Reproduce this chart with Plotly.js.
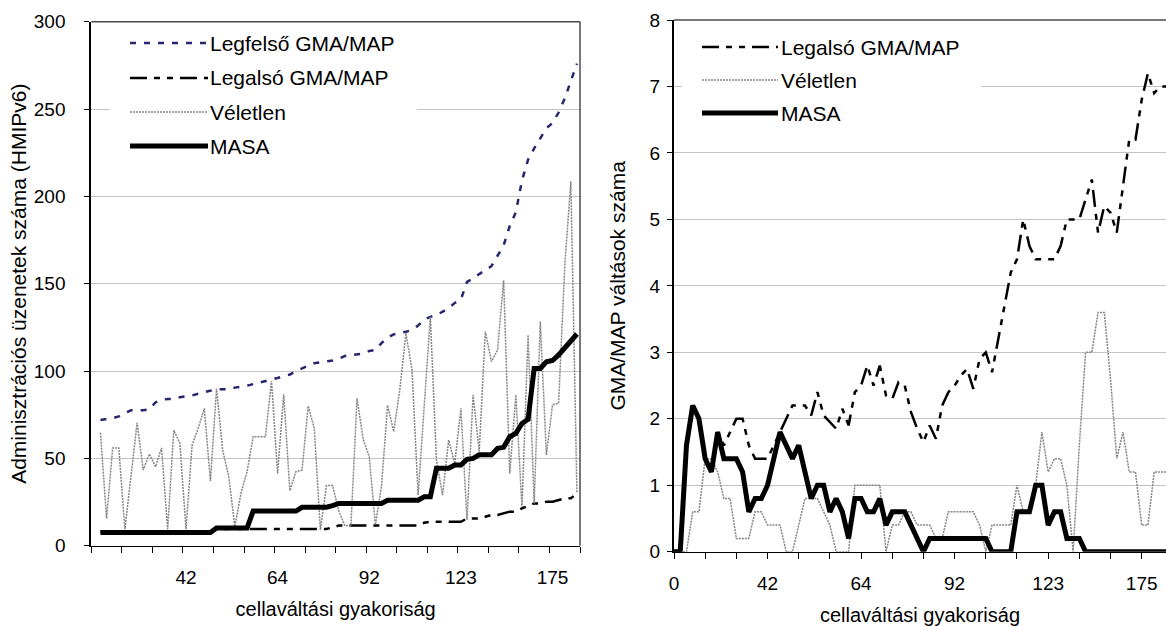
<!DOCTYPE html>
<html><head><meta charset="utf-8">
<script src="https://cdn.plot.ly/plotly-3.0.1.min.js"></script>
<style>html,body{margin:0;padding:0;background:#fff}#chart{width:1166px;height:626px}</style>
</head><body><div id="chart"></div>
<script>
// ---------- data (left chart: categories 2..80, right chart: categories 1..80) ----------
const legfelsoL = [72, 72.5, 73, 74, 76, 77.5, 77.5, 77.5, 78, 82,
  83.5, 84, 84, 85, 85.5, 86, 87, 88, 89, 89.6,
  89.6, 89.6, 90.5, 91, 91.6, 92.5, 93.3, 94.5, 95, 96,
  97, 98, 100, 101.4, 103, 104.5, 105, 105.5, 106, 107,
  108.6, 109, 109.5, 110, 111.5, 112, 116, 119, 121, 121.6,
  122.5, 123.5, 126, 129.5, 131, 132, 134, 136, 139, 141,
  151, 153, 155.5, 158, 160, 166, 172, 183, 191, 209,
  221, 227.5, 233, 239, 242, 248, 256, 265.5, 276];
const legalsoL = [8, 8, 8, 8, 8, 8, 8, 8, 8, 8,
  8, 8, 8, 8, 8, 8, 8, 8, 8, 9.6,
  9.6, 9.6, 9.6, 9.6, 9.6, 9.6, 9.6, 9.6, 9.6, 9.6,
  9.6, 9.6, 9.6, 9.6, 9.6, 9.6, 9.6, 9.6, 10.5, 11.5,
  11.5, 11.5, 11.5, 11.5, 11.5, 11.5, 11.5, 11.5, 11.5, 11.5,
  11.5, 11.5, 11.5, 13.2, 13.7, 13.7, 13.7, 13.7, 13.7, 13.7,
  15.6, 15.6, 15.6, 16.6, 17.6, 17.6, 18.5, 19.5, 19.5, 21.4,
  22.8, 24.2, 24.2, 25.2, 25.2, 26, 27.1, 27.1, 30];
const veletlenL = [64.7, 15.6, 56, 56, 9.4, 40, 70.4, 43.3, 52.5, 45.2,
  56, 9.4, 66.2, 58.6, 9.4, 57.6, 67.2, 78.6, 37, 90,
  54.8, 39.5, 10.9, 30, 42.4, 62.4, 62.4, 62.4, 94.3, 41.4,
  86.6, 31.5, 42.4, 43.3, 80, 67.2, 9, 34.4, 34.4, 20,
  11.5, 11.5, 84.4, 61, 51, 12, 33.8, 80.4, 65.3, 89.2,
  121.6, 100.6, 29, 80, 131, 49, 29, 60.5, 47, 78.6,
  14.7, 86.3, 54, 122.6, 105.4, 112, 152, 41.4, 86.3, 22,
  120.7, 24.2, 128.3, 52, 80.6, 81.5, 160, 208.5, 30];
const masaL = [7.6, 7.6, 7.6, 7.6, 7.6, 7.6, 7.6, 7.6, 7.6, 7.6,
  7.6, 7.6, 7.6, 7.6, 7.6, 7.6, 7.6, 7.6, 7.6, 10.2,
  10.2, 10.2, 10.2, 10.2, 10.2, 19.8, 19.8, 19.8, 19.8, 19.8,
  19.8, 19.8, 19.8, 22, 22, 22, 22, 22, 23, 24.2,
  24.2, 24.2, 24.2, 24.2, 24.2, 24.2, 24.2, 26, 26, 26,
  26, 26, 26, 28, 28, 44.3, 44.3, 44.3, 46.2, 46.2,
  49.4, 50, 52, 52, 52, 55.7, 56.3, 62.4, 64.3, 70,
  72.3, 101.5, 101.5, 105.3, 106, 109.2, 113, 116.8, 121.2];

const legalsoR = [0, 0, 1.6, 2.2, 2.0, 1.4, 1.2, 1.8, 1.6, 1.8,
  2.0, 2.0, 1.6, 1.4, 1.4, 1.4, 1.6, 1.8, 2.0, 2.2,
  2.2, 2.2, 2.05, 2.4, 2.05, 1.95, 1.85, 2.15, 1.9, 2.4,
  2.5, 2.8, 2.5, 2.8, 2.35, 2.3, 2.55, 2.5, 2.1, 1.85,
  1.65, 1.9, 1.7, 2.2, 2.4, 2.5, 2.65, 2.75, 2.45, 2.9,
  3.0, 2.7, 3.2, 3.7, 4.2, 4.4, 5.0, 4.6, 4.4, 4.4,
  4.4, 4.4, 4.6, 5.0, 5.0, 5.0, 5.3, 5.6, 4.8, 5.2,
  5.1, 4.8, 5.5, 6.2, 6.2, 6.8, 7.2, 6.9, 7.0, 7.0];
const veletlenR = [0, 0, 0, 0.6, 0.6, 1.4, 1.4, 1.2, 0.8, 0.8,
  0.2, 0.2, 0.2, 0.6, 0.6, 0.4, 0.4, 0.4, 0, 0,
  0.4, 0.8, 0.8, 0.8, 0.6, 0.4, 0, 0, 0, 1.0,
  1.0, 1.0, 1.0, 1.0, 0, 0.4, 0.4, 0.6, 0.6, 0.4,
  0.4, 0.4, 0.2, 0.2, 0.6, 0.6, 0.6, 0.6, 0.6, 0.4,
  0, 0.4, 0.4, 0.4, 0.4, 1.0, 0.6, 0.6, 1.0, 1.8,
  1.2, 1.4, 1.4, 1.0, 0, 1.6, 3.0, 3.0, 3.6, 3.6,
  2.6, 1.4, 1.8, 1.2, 1.2, 0.4, 0.4, 1.2, 1.2, 1.2];
const masaR = [0, 0, 1.6, 2.2, 2.0, 1.4, 1.2, 1.8, 1.4, 1.4,
  1.4, 1.2, 0.6, 0.8, 0.8, 1.0, 1.4, 1.8, 1.6, 1.4,
  1.6, 1.2, 0.8, 1.0, 1.0, 0.6, 0.8, 0.6, 0.2, 0.8,
  0.8, 0.6, 0.6, 0.8, 0.4, 0.6, 0.6, 0.6, 0.4, 0.2,
  0, 0.2, 0.2, 0.2, 0.2, 0.2, 0.2, 0.2, 0.2, 0.2,
  0.2, 0, 0, 0, 0, 0.6, 0.6, 0.6, 1.0, 1.0,
  0.4, 0.6, 0.6, 0.2, 0.2, 0.2, 0, 0, 0, 0,
  0, 0, 0, 0, 0, 0, 0, 0, 0, 0];

const tickLabelsL = ['42', '64', '92', '123', '175'];
const tickLabelsR = ['0', '42', '64', '92', '123', '175'];
const seriesNamesL = ['Legfelső GMA/MAP', 'Legalsó GMA/MAP', 'Véletlen', 'MASA'];
const seriesNamesR = ['Legalsó GMA/MAP', 'Véletlen', 'MASA'];
const yTitleL = 'Adminisztrációs üzenetek száma (HMIPv6)';
const yTitleR = 'GMA/MAP váltások száma';
const xTitle = 'cellaváltási gyakoriság';

// ---------- helpers ----------
const W = 1166, H = 626;
const seq = (start, n) => Array.from({length: n}, (_, i) => start + i);
const xl = seq(2, legfelsoL.length);
const xr = seq(1, masaR.length);
const px = v => v / W;            // pixel -> paper x
const py = v => 1 - v / H;        // pixel -> paper y
const FONT = '"Liberation Sans", Arial, sans-serif';

const ST = {
  top:  {color: '#26266e', width: 2.5, dash: '6px,8px'},
  low:  {color: '#000000', width: 2.5, dash: '17px,7px,6px,7px,6px,7px'},
  rnd:  {color: '#858585', width: 1.5, dash: '2px,1px'},
  masa: {color: '#000000', width: 5}
};

const tr = (x, y, name, st, xa, ya) => ({x, y, name, type: 'scatter', mode: 'lines',
  line: Object.assign({}, st), xaxis: xa, yaxis: ya, hoverinfo: 'skip'});

const data = [
  tr(xl, legfelsoL, seriesNamesL[0], ST.top, 'x', 'y'),
  tr(xl, legalsoL, seriesNamesL[1], ST.low, 'x', 'y'),
  tr(xl, veletlenL, seriesNamesL[2], ST.rnd, 'x', 'y'),
  tr(xl, masaL, seriesNamesL[3], ST.masa, 'x', 'y'),
  tr(xr, legalsoR, seriesNamesR[0], ST.low, 'x2', 'y2'),
  tr(xr, veletlenR, seriesNamesR[1], ST.rnd, 'x2', 'y2'),
  tr(xr, masaR, seriesNamesR[2], ST.masa, 'x2', 'y2')
];

// plot-area geometry (pixels)
const L = {x0: 91.3, x1: 580, y0: 21.7, y1: 545.7};
const R = {x0: 674, x1: W, y0: 20, y1: 551.7};
const catW_R = 6.236;

const boundsL = seq(0, 17).map(k => 0.5 + 5 * k);
const ticksR = seq(0, 16).map(k => 1 + 5 * k);
const ticktextR = ticksR.map((v, i) => (i % 3 === 0 ? tickLabelsR[i / 3] : ''));

const tickFont = {family: FONT, size: 19, color: '#000'};
const xTitleFont = {family: FONT, size: 20, color: '#000'};
const yTitleFont = {family: FONT, size: 21, color: '#000'};

const layout = {
  width: W, height: H, margin: {l: 0, r: 0, t: 0, b: 0},
  paper_bgcolor: '#fff', plot_bgcolor: '#fff', showlegend: false,
  font: {family: FONT, size: 18, color: '#000'},
  xaxis: {domain: [px(L.x0), px(L.x1)], range: [0.5, 80.5], anchor: 'y',
    showgrid: false, zeroline: false, showline: true, linecolor: '#000', linewidth: 1.5,
    tickmode: 'array', tickvals: [16, 31, 46, 61, 76], ticktext: tickLabelsL, ticks: '',
    tickfont: tickFont, ticklabelstandoff: 14,
    minor: {tickmode: 'array', tickvals: boundsL, ticks: 'outside', ticklen: 6, tickcolor: '#000', tickwidth: 1, showgrid: false},
    title: {text: xTitle, font: xTitleFont, standoff: 15}},
  yaxis: {domain: [py(L.y1), py(L.y0)], range: [0, 300], anchor: 'x',
    tickmode: 'linear', tick0: 0, dtick: 50,
    showgrid: true, gridcolor: '#c4c4c4', gridwidth: 1, zeroline: false,
    showline: true, linecolor: '#000', linewidth: 2, ticks: 'outside', ticklen: 5, tickcolor: '#000',
    tickfont: tickFont, ticklabelstandoff: 15, title: {text: yTitleL, font: yTitleFont, standoff: 1}},
  xaxis2: {domain: [px(R.x0), 1], range: [1, 1 + (R.x1 - R.x0) / catW_R], anchor: 'y2',
    showgrid: false, zeroline: false, showline: true, linecolor: '#000', linewidth: 1.5,
    tickmode: 'array', tickvals: ticksR, ticktext: ticktextR, ticks: 'outside', ticklen: 6,
    tickcolor: '#000', tickwidth: 1, tickfont: tickFont, ticklabelstandoff: 8,
    title: {text: xTitle, font: xTitleFont, standoff: 15}},
  yaxis2: {domain: [py(R.y1), py(R.y0)], range: [0, 8], anchor: 'x2',
    tickmode: 'linear', tick0: 0, dtick: 1,
    showgrid: true, gridcolor: '#c4c4c4', gridwidth: 1, zeroline: false,
    showline: true, linecolor: '#000', linewidth: 2, ticks: 'outside', ticklen: 5, tickcolor: '#000',
    tickfont: tickFont, ticklabelstandoff: 3, title: {text: yTitleR, font: yTitleFont, standoff: 18}},
  shapes: [], annotations: []
};

// frame lines (top / right) of the plot areas
const frame = {type: 'line', xref: 'paper', yref: 'paper', line: {color: '#4a4a4a', width: 1.5}, layer: 'above'};
layout.shapes.push(Object.assign({}, frame, {x0: px(L.x0), x1: px(L.x1), y0: py(L.y0), y1: py(L.y0)}));
layout.shapes.push(Object.assign({}, frame, {x0: px(L.x1), x1: px(L.x1), y0: py(L.y0), y1: py(L.y1)}));
layout.shapes.push(Object.assign({}, frame, {x0: px(R.x0), x1: 1, y0: py(R.y0), y1: py(R.y0)}));

// legends (white boxes hiding the gridlines, sample lines, texts)
function legend(box, lx0, lx1, tx, ys, names, styles) {
  layout.shapes.push({type: 'rect', xref: 'paper', yref: 'paper', layer: 'above',
    x0: px(box[0]), x1: px(box[1]), y0: py(box[3]), y1: py(box[2]),
    fillcolor: '#fff', line: {width: 0}});
  names.forEach((n, i) => {
    layout.shapes.push({type: 'line', xref: 'paper', yref: 'paper', layer: 'above',
      x0: px(lx0), x1: px(lx1), y0: py(ys[i]), y1: py(ys[i]), line: Object.assign({}, styles[i])});
    layout.annotations.push({xref: 'paper', yref: 'paper', x: px(tx), y: py(ys[i]),
      xanchor: 'left', yanchor: 'middle', showarrow: false, text: n,
      font: {family: FONT, size: 21, color: '#000'}});
  });
}
legend([110, 417, 26, 190], 130, 208, 208, [43, 78, 112, 146], seriesNamesL, [ST.top, ST.low, ST.rnd, ST.masa]);
legend([682, 981, 26, 140], 702, 778, 779, [47, 80, 113], seriesNamesR, [ST.low, ST.rnd, ST.masa]);

Plotly.newPlot('chart', data, layout, {staticPlot: true, displayModeBar: false});
</script>
</body></html>
